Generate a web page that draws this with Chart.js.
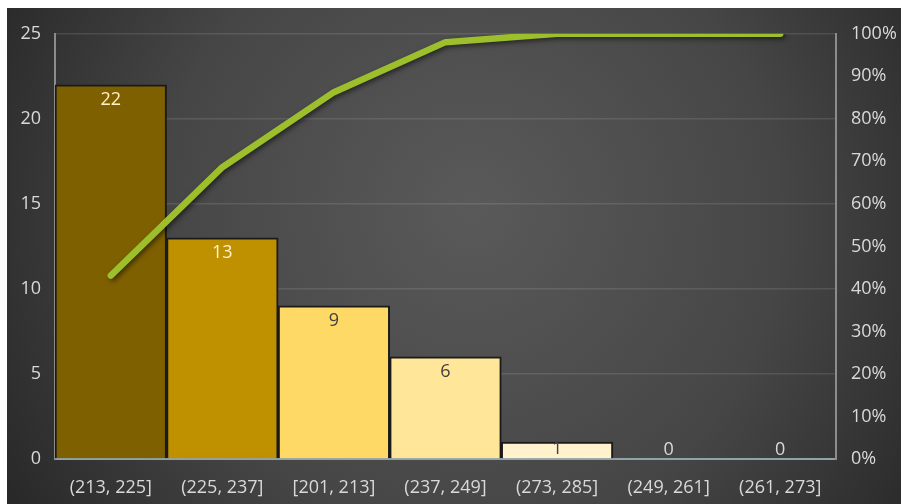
<!DOCTYPE html>
<html>
<head>
<meta charset="utf-8">
<script src="https://cdn.jsdelivr.net/npm/chart.js@4.4.1/dist/chart.umd.min.js"></script>
<style>
  html, body { margin: 0; padding: 0; background: #ffffff; }
  .chart { position: absolute; left: 7px; top: 8px; width: 894px; height: 496px; }
</style>
</head>
<body>
<div class="chart"><canvas id="myChart"></canvas></div>
<script>
// Intervalos ordenados de mayor a menor frecuencia
const bins = ['(213, 225]', '(225, 237]', '[201, 213]', '(237, 249]', '(273, 285]', '(249, 261]', '(261, 273]'];
const counts = [22, 13, 9, 6, 1, 0, 0];
const barColors = ['#7F6000', '#BF9000', '#FFD966', '#FFE699', '#FFF2CC', '#FFF2CC', '#FFF2CC'];
const labelColors = ['#FFF2CC', '#FFF2CC', '#404040', '#404040', '#404040', '#D9D9D9', '#D9D9D9'];
const countTicks = [0, 5, 10, 15, 20, 25];

// Porcentaje acumulado
const total = counts.reduce((a, b) => a + b, 0);
let running = 0;
const cumulative = counts.map(c => {
    running += c;
    return running / total * 100;
});

const fontFamily = "'Open Sans', 'Noto Sans', sans-serif";
const fontSize = 18;
const ctx = document.getElementById('myChart');

// Fondo oscuro con degradado radial
const backgroundPlugin = {
    id: 'darkBackground',
    beforeDraw: (chart) => {
        const c = chart.ctx;
        const w = chart.width, h = chart.height;
        const g = c.createRadialGradient(w * 0.52, h * 0.4, 10, w * 0.52, h * 0.45, w * 0.62);
        g.addColorStop(0, '#595959');
        g.addColorStop(0.55, '#464646');
        g.addColorStop(1, '#262626');
        c.save();
        c.fillStyle = g;
        c.fillRect(0, 0, w, h);
        c.restore();
    }
};

// Etiquetas de valor dentro de cada barra
const barLabelsPlugin = {
    id: 'barLabels',
    afterDatasetsDraw: (chart) => {
        const meta = chart.getDatasetMeta(1);
        const c = chart.ctx;
        c.save();
        c.font = `${fontSize}px ${fontFamily}`;
        c.textAlign = 'center';
        c.textBaseline = 'middle';
        meta.data.forEach((bar, i) => {
            const y = Math.min(bar.y + 15, bar.base - 9);
            c.fillStyle = labelColors[i];
            c.fillText(String(counts[i]), bar.x, y);
        });
        c.restore();
    }
};

// Sombra suave para la línea acumulada
const lineShadowPlugin = {
    id: 'lineShadow',
    beforeDatasetDraw: (chart, args) => {
        if (args.index === 0) {
            chart.ctx.save();
            chart.ctx.shadowColor = 'rgba(0, 0, 0, 0.55)';
            chart.ctx.shadowBlur = 5;
            chart.ctx.shadowOffsetX = 2;
            chart.ctx.shadowOffsetY = 2;
        }
    },
    afterDatasetDraw: (chart, args) => {
        if (args.index === 0) chart.ctx.restore();
    }
};

const myChart = new Chart(ctx, {
    type: 'bar',
    data: {
        labels: bins,
        datasets: [
            {
                type: 'line',
                data: cumulative,
                yAxisID: 'y1',
                borderColor: '#9CBF2B',
                borderWidth: 6.5,
                borderCapStyle: 'round',
                borderJoinStyle: 'round',
                pointRadius: 0,
                tension: 0,
                order: 0
            },
            {
                type: 'bar',
                data: counts,
                yAxisID: 'y',
                backgroundColor: barColors,
                borderColor: '#1a1a1a',
                borderWidth: 2,
                borderSkipped: 'bottom',
                barPercentage: 1,
                categoryPercentage: 1,
                order: 1
            }
        ]
    },
    options: {
        responsive: true,
        maintainAspectRatio: false,
        animation: false,
        layout: { padding: { top: 25, left: 0, right: 0, bottom: 0 } },
        plugins: {
            legend: { display: false },
            tooltip: { enabled: false }
        },
        scales: {
            x: {
                grid: { display: false, drawTicks: false },
                border: { color: '#8FA3A8', width: 2 },
                ticks: {
                    color: '#D9D9D9',
                    font: { family: fontFamily, size: fontSize },
                    padding: 18,
                    maxRotation: 0,
                    autoSkip: false
                },
                afterFit: (scale) => { scale.height = 45; }
            },
            y: {
                position: 'left',
                min: 0,
                max: 25,
                afterBuildTicks: (scale) => { scale.ticks = countTicks.map(v => ({ value: v })); },
                grid: { color: 'rgba(255, 255, 255, 0.11)', lineWidth: 1.5, drawTicks: false },
                border: { color: '#8C8C8C', width: 2 },
                ticks: {
                    color: '#D9D9D9',
                    font: { family: fontFamily, size: fontSize },
                    padding: 14
                },
                afterFit: (scale) => { scale.width = 48; }
            },
            y1: {
                position: 'right',
                min: 0,
                max: 100,
                grid: { display: false, drawTicks: false },
                border: { color: '#8C8C8C', width: 2 },
                ticks: {
                    stepSize: 10,
                    color: '#D9D9D9',
                    font: { family: fontFamily, size: fontSize },
                    padding: 15,
                    callback: (v) => v + '%'
                },
                afterFit: (scale) => { scale.width = 65; }
            }
        }
    },
    plugins: [backgroundPlugin, barLabelsPlugin, lineShadowPlugin]
});
</script>
</body>
</html>
